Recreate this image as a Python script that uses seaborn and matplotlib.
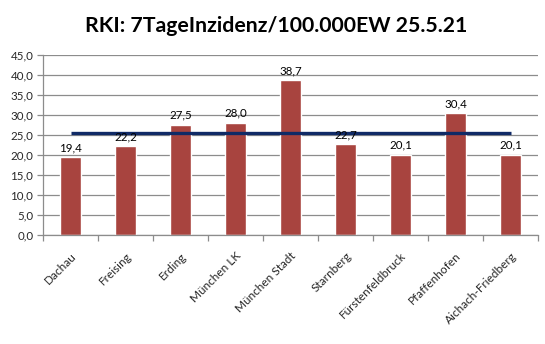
import numpy as np
import pandas as pd
import matplotlib
matplotlib.use("Agg")
import matplotlib.pyplot as plt
import seaborn as sns
from matplotlib.ticker import FuncFormatter, MultipleLocator, FixedLocator

districts = ["Dachau", "Freising", "Erding", "München LK", "München Stadt",
             "Starnberg", "Fürstenfeldbruck", "Pfaffenhofen", "Aichach-Friedberg"]
incidence = [19.4, 22.2, 27.5, 28.0, 38.7, 22.7, 20.1, 30.4, 20.1]
average_line = [25.5] * len(districts)
title = "RKI: 7TageInzidenz/100.000EW 25.5.21"

sns.set_theme(style="white")
plt.rcParams["font.family"] = ["Lato", "DejaVu Sans"]

fig = plt.figure(figsize=(5.45, 3.44), dpi=100)
ax = fig.add_axes([43 / 545, 1 - 235 / 344, (538 - 43) / 545, (235 - 55) / 344])

df = pd.DataFrame({"district": districts, "value": incidence})
sns.barplot(data=df, x="district", y="value", color="#A8443F", saturation=1,
            width=0.38, ax=ax, zorder=2)

# horizontal reference line across the district centres
ax.plot(np.arange(len(districts)), average_line, color="#102A66", lw=2.4,
        zorder=3, solid_capstyle="butt")

fmt = lambda v: f"{v:.1f}".replace(".", ",")
for i, v in enumerate(incidence):
    ax.annotate(fmt(v), (i, v), xytext=(0, 3), textcoords="offset points",
                ha="center", va="bottom", fontsize=8.3, color="black", zorder=4)

ax.set_ylim(0, 45)
ax.set_xlim(-0.5, len(districts) - 0.5)
ax.yaxis.set_major_locator(MultipleLocator(5))
ax.yaxis.set_major_formatter(FuncFormatter(lambda v, p: fmt(v)))
ax.grid(axis="y", color="#8C8C8C", lw=0.9, zorder=0)
ax.set_axisbelow(True)

ax.set_xlabel("")
ax.set_ylabel("")
ax.set_xticks(range(len(districts)))
ax.set_xticklabels(districts, rotation=45, ha="right", rotation_mode="anchor",
                   fontsize=8.5)
ax.xaxis.set_minor_locator(FixedLocator(np.arange(-0.5, len(districts), 1)))
ax.tick_params(axis="x", which="major", length=0, pad=11)
ax.tick_params(axis="x", which="minor", length=4, color="#8C8C8C", width=0.9,
               bottom=True)
ax.tick_params(axis="y", length=4, color="#8C8C8C", width=0.9, left=True,
               labelsize=8.3, pad=3)

for side in ["top", "right"]:
    ax.spines[side].set_visible(False)
for side in ["left", "bottom"]:
    ax.spines[side].set_color("#8C8C8C")
    ax.spines[side].set_linewidth(0.9)

fig.text(276 / 545, 1 - 26 / 344, title, ha="center", va="center",
         fontsize=15.3, fontweight="bold", color="black")

fig.savefig("out.png", dpi=100, facecolor="white")
